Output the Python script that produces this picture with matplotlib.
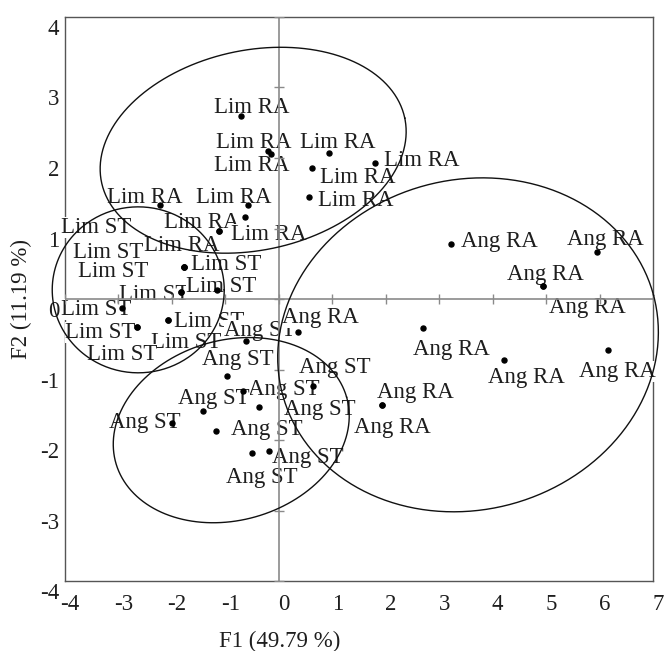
import matplotlib
matplotlib.use("Agg")
import matplotlib.pyplot as plt
import matplotlib.transforms as mtransforms
import numpy as np

plt.rcParams['font.family'] = ['Liberation Serif', 'DejaVu Serif']
plt.rcParams['axes.unicode_minus'] = False

# observation scores (F1, F2) per group
lim_ra_x = [-0.71, -0.20, -0.15, 0.94, 1.80, 0.62, 0.56, -2.22, -0.58, -0.63, -1.12, -1.12]
lim_ra_y = [2.60, 2.10, 2.06, 2.07, 1.93, 1.86, 1.45, 1.33, 1.33, 1.16, 0.96, 0.96]
lim_st_x = [-1.77, -1.83, -1.16, -2.93, -2.65, -2.07, -1.77, -1.77, -1.83, -2.07, -2.65]
lim_st_y = [0.45, 0.10, 0.13, -0.13, -0.40, -0.30, 0.45, 0.45, 0.10, -0.30, -0.40]
ang_st_x = [-0.61, -0.97, 0.64, -0.67, -1.42, -0.37, -1.17, -0.18, -0.50, -2.00]
ang_st_y = [-0.60, -1.09, -1.23, -1.30, -1.59, -1.53, -1.87, -2.16, -2.18, -1.76]
ang_ra_x = [0.36, 2.70, 1.93, 3.22, 5.95, 4.94, 4.21, 6.16, 4.94, 1.93]
ang_ra_y = [-0.47, -0.41, -1.50, 0.78, 0.67, 0.18, -0.87, -0.72, 0.18, -1.50]

# confidence ellipses: centre and two conjugate semi-axes (F1, F2 units)
ell_center = [(-0.48, 2.11), (-2.63, 0.13), (-0.89, -1.86), (3.54, -0.65)]
ell_u = [(2.836, 0.457), (1.609, 0.0), (2.158, 0.469), (3.470, 0.705)]
ell_v = [(-0.389, 1.387), (0.0, 1.177), (-0.464, 1.227), (-0.799, 2.261)]

xticks = list(range(-4, 8))
yticks = list(range(-4, 5))

# label offsets (pixels) from each point
lim_ra_off = [(11, 3), (-14, 3), (-19, -17), (9, 5), (47, -3), (46, -15), (47, -9),
              (-15, 2), (-14, 2), (-43, -11), (50, -9), (-37, -20)]
lim_st_off = [(42, -3), (-27, -8), (4, -2), (-26, -7), (-37, -11), (41, -7),
              (-88, 34), (-76, 9), (-68, 15), (18, -28), (-15, -33)]
ang_st_off = [(14, 5), (11, 11), (22, 13), (41, -4), (11, 7), (61, -8), (51, -4),
              (39, -12), (10, -30), (-27, -5)]
ang_ra_off = [(22, 9), (28, -27), (33, 7), (48, -3), (9, 7), (3, 6), (23, -23),
              (9, -27), (45, -27), (10, -28)]

fs = 16.5
txt = '#1e1e1e'

fig = plt.figure(figsize=(6.64, 6.51), dpi=100)
ax = fig.add_axes([0.0979, 0.1075, 0.8855, 0.8664])
ax.set_xlim(-4, 7)
ax.set_ylim(-4, 4)

groups = [("Lim RA", lim_ra_x, lim_ra_y, lim_ra_off),
          ("Lim ST", lim_st_x, lim_st_y, lim_st_off),
          ("Ang ST", ang_st_x, ang_st_y, ang_st_off),
          ("Ang RA", ang_ra_x, ang_ra_y, ang_ra_off)]

for name, xs, ys, offs in groups:
    ax.plot(xs, ys, 'o', color='black', ms=3.6, ls='none', zorder=5, clip_on=False)
    for x, y, (dx, dy) in zip(xs, ys, offs):
        ax.annotate(name, (x, y), xytext=(dx, dy), textcoords='offset pixels',
                    ha='center', va='baseline', fontsize=fs, color=txt, zorder=3,
                    bbox=dict(fc='white', ec='none', pad=0))

# zero axes with small ticks
ax.axhline(0, color='#8a8a8a', lw=1.2, zorder=4)
ax.axvline(0, color='#8a8a8a', lw=1.2, zorder=4)
ax.plot(xticks, [0] * len(xticks), ls='none', marker='|', ms=7, color='#8a8a8a', zorder=4)
ax.plot([0] * len(yticks), yticks, ls='none', marker='_', ms=7, color='#8a8a8a', zorder=4)

t = np.linspace(0, 2 * np.pi, 300)
for (cx, cy), (ux, uy), (vx, vy) in zip(ell_center, ell_u, ell_v):
    ex = cx + ux * np.cos(t) + vx * np.sin(t)
    ey = cy + uy * np.cos(t) + vy * np.sin(t)
    ax.plot(ex, ey, color='#111111', lw=1.0, zorder=4, clip_on=False)

ax.set_xticks(xticks)
ax.set_yticks(yticks)
ax.tick_params(length=0, labelsize=fs, colors=txt)
ax.tick_params(axis='x', pad=9)
ax.tick_params(axis='y', pad=4)
for s in ax.spines.values():
    s.set_color('#555555')
    s.set_linewidth(1.0)

dx_shift = mtransforms.ScaledTranslation(0.05, 0, fig.dpi_scale_trans)
dy_shift = mtransforms.ScaledTranslation(0, -0.10, fig.dpi_scale_trans)
for lab in ax.get_xticklabels():
    lab.set_transform(lab.get_transform() + dx_shift)
for lab in ax.get_yticklabels():
    lab.set_transform(lab.get_transform() + dy_shift)

fig.text(0.4217, 0.0154, "F1 (49.79 %)", ha='center', va='center', fontsize=fs, color=txt)
fig.text(0.0316, 0.5407, "F2 (11.19 %)", ha='center', va='center', rotation=90,
         fontsize=fs, color=txt)

fig.savefig("out.png", dpi=100)
